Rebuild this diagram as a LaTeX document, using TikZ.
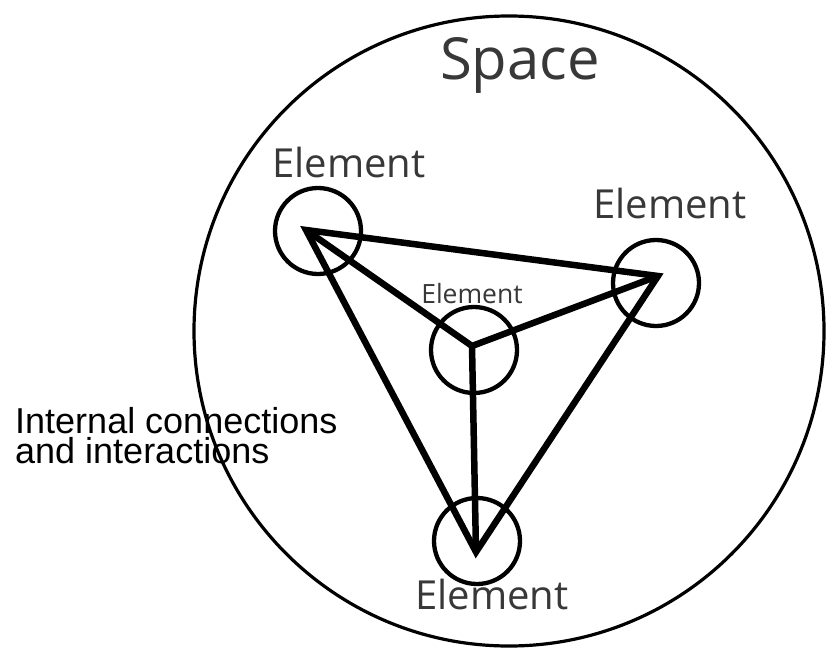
\documentclass[tikz,border=0pt]{standalone}
\usepackage{fontspec}
\setmainfont{Open Sans}
\newfontfamily\arialfont{Liberation Sans}
\definecolor{txtgray}{HTML}{383838}
\begin{document}
\begin{tikzpicture}[x=1pt,y=-1pt,
  space/.style={draw=black,line width=3.2pt},
  elem/.style={draw=black,line width=4.3pt,circle,minimum size=86pt,inner sep=0pt},
  link/.style={draw=black,line width=6.5pt,line join=miter},
  lbl/.style={text=txtgray,inner sep=0pt,anchor=base},
  big/.style={font=\fontsize{40}{40}\selectfont},
  small/.style={font=\fontsize{26.5}{26.5}\selectfont},
  note/.style={font=\arialfont\fontsize{36}{30}\selectfont,text=black,inner sep=0pt,anchor=base west,align=left}]
\useasboundingbox (0,0) rectangle (826,655);
\fill[white] (0,0) rectangle (826,655);
% texts
\node[note] (txt) at (15,463) {Internal connections\\and interactions};
% space
\node[space,circle,minimum size=630pt,inner sep=0pt] (space) at (509,331) {};
\node[lbl,font=\fontsize{58}{58}\selectfont] (spacelbl) at (520,80) {Space};
% element circles
\node[elem] (cTL) at (318,231) {};
\node[elem] (cR) at (656,283) {};
\node[elem] (cC) at (474,350) {};
\node[elem] (cB) at (477,541) {};
% vertices
\coordinate (vTL) at (306,230);
\coordinate (vR) at (658,276);
\coordinate (vC) at (472,346);
\coordinate (vB) at (476,552);
% links
\draw[link] (vTL) -- (vR) -- (vB) -- cycle;
\draw[link] (vTL) -- (vC) -- (vR);
\draw[link] (vC) -- (vB);
% labels
\node[lbl,big] (lTL) at (349,178) {Element};
\node[lbl,big] (lR) at (670,218) {Element};
\node[lbl,small] (lC) at (472,303) {Element};
\node[lbl,big] (lB) at (492,609) {Element};
\end{tikzpicture}
\end{document}
